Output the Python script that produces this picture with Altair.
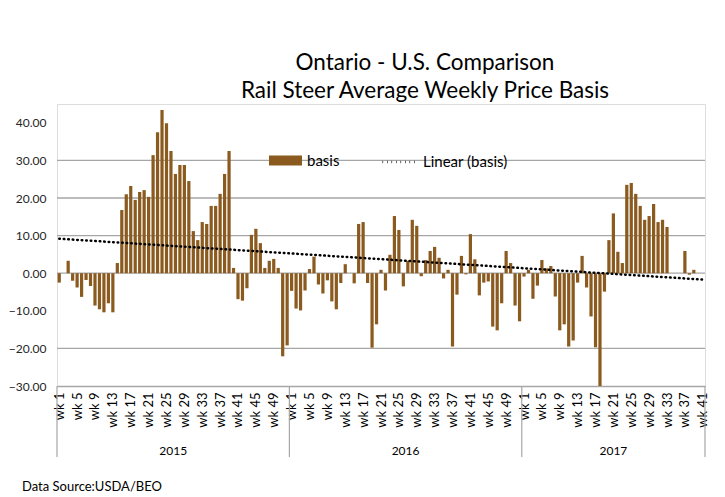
import altair as alt
import pandas as pd

# ---------------- data ----------------
years = ["2015", "2016", "2017"]

basis_2015 = [-2.5, None, 3.3, -2.0, -3.8, -6.3, -1.8, -3.4, -8.6, -9.6,
              -10.4, -8.0, -10.4, 2.7, 16.8, 21.0, 23.2, 19.5, 21.6, 22.1,
              20.3, 31.4, 37.5, 43.4, 39.9, 32.5, 26.4, 28.8, 28.8, 24.5,
              11.2, 8.8, 13.6, 13.1, 17.9, 17.9, 21.1, 26.4, 32.5, 1.4,
              -6.9, -7.3, -4.0, 10.2, 11.8, 8.0, 1.4, 3.3, 3.8, 1.4,
              -22.1, -19.2]

basis_2016 = [-4.7, -9.4, -9.9, -4.6, 1.1, 4.4, -3.0, -5.4, -1.9, -7.5,
              -9.6, -2.6, 2.4, None, -2.7, 13.1, 13.6, -2.6, -19.8, -13.6,
              0.9, -4.6, 4.9, 15.2, 11.5, -3.5, 3.3, 14.2, 12.6, -0.8,
              3.5, 5.9, 7.0, 4.1, -1.4, 0.9, -19.5, -5.7, 4.6, -0.3,
              10.4, 3.7, -5.9, -2.5, -2.2, -14.2, -15.2, -8.0, 5.9, 2.7,
              -8.6, -12.8]

basis_2017 = [-0.9, 0.9, -6.8, -3.3, 3.5, 1.3, 1.9, -6.2, -15.2, -13.6,
              -19.5, -17.9, -2.5, 4.6, -3.8, -11.5, -19.7, -30.0, -4.9, 8.8,
              15.9, 5.7, 2.7, 23.5, 24.0, 21.1, 17.9, 14.2, 15.2, 18.4,
              13.6, 14.2, 12.3, None, None, None, 5.9, -0.4, 0.9, None,
              None]

series_name = "basis"
trend_name = "Linear (basis)"
y_ticks = [-30, -20, -10, 0, 10, 20, 30, 40]
grid_values = [-20, 0, 10, 20, 30]
title_lines = ["Ontario - U.S. Comparison", "Rail Steer Average Weekly Price Basis"]
source_note = "Data Source:USDA/BEO"

# ---------------- tables built from the lists ----------------
rows, year_rows, bound_rows = [], [], []
start = 0
label_parts = []
bound_rows.append({"b": -0.5})
for yr, vals in zip(years, [basis_2015, basis_2016, basis_2017]):
    for w, v in enumerate(vals, start=1):
        rows.append({"idx": start + w - 1, "year": yr, "week": w, "val": v,
                     "series": series_name})
    year_rows.append({"year": yr, "c": start + (len(vals) - 1) / 2})
    label_parts.append((start, start + len(vals)))
    start += len(vals)
    bound_rows.append({"b": start - 0.5})

df = pd.DataFrame(rows)
years_df = pd.DataFrame(year_rows)
bounds_df = pd.DataFrame(bound_rows)
grid_df = pd.DataFrame({"g": grid_values})
n = len(df)

# label expression: index -> "wk N"
expr = "''"
for s, e in reversed(label_parts):
    expr = f"(datum.value >= {s} && datum.value < {e}) ? 'wk ' + (datum.value - {s} + 1) : " + expr

W, H = 648, 282
FONT = "Lato"
BROWN = "#8B5A1F"

x_scale = alt.Scale(domain=[-0.5, n - 0.5], nice=False, zero=False)
y_scale = alt.Scale(domain=[-30, 45], nice=False, zero=False)

x_axis = alt.Axis(values=list(range(0, n, 4)), labelExpr=expr,
                  labelAngle=-90, labelAlign="right", labelBaseline="middle",
                  labelPadding=6, labelFontSize=13, labelFont=FONT,
                  labelColor="#000000", labelOverlap=False, labelFlush=False,
                  labelBound=False, ticks=False, grid=False, domain=True,
                  domainColor="#a6a6a6", domainWidth=1.3)
y_axis = alt.Axis(values=y_ticks, format=".2f", labelFontSize=12,
                  labelFont=FONT, labelColor="#262626", labelPadding=11,
                  ticks=False, domain=False, grid=False)

grid = alt.Chart(grid_df).mark_rule(color="#a6a6a6", strokeWidth=1.3).encode(
    y=alt.Y("g:Q", scale=y_scale, axis=y_axis, title=None)
)

bars = alt.Chart(df).transform_filter("isValid(datum.val)").transform_calculate(
    x1="datum.idx - 0.36", x2="datum.idx + 0.36"
).mark_bar(stroke=None).encode(
    x=alt.X("x1:Q", scale=x_scale, title=None, axis=x_axis),
    x2="x2:Q",
    y=alt.Y("val:Q", scale=y_scale, title=None, axis=y_axis),
    y2=alt.Y2(datum=0),
    color=alt.Color("series:N", scale=alt.Scale(domain=[series_name], range=[BROWN]),
                    legend=alt.Legend(orient="none", legendX=212, legendY=40,
                                      title=None, direction="horizontal", padding=0,
                                      symbolType="M-1,-0.3H1V0.3H-1Z", symbolSize=1089,
                                      symbolStrokeWidth=0, labelFontSize=15,
                                      labelFont=FONT, labelColor="#000000",
                                      labelOffset=5)),
)

trend = alt.Chart(df).transform_filter("isValid(datum.val)").transform_regression(
    "idx", "val", method="linear", extent=[0, n - 1]
).transform_calculate(trend=f"'{trend_name}'").mark_line(
    color="#000000", strokeWidth=2.5, strokeCap="round"
).encode(
    x=alt.X("idx:Q", scale=x_scale, title=None, axis=x_axis),
    y=alt.Y("val:Q", scale=y_scale, title=None, axis=y_axis),
    strokeDash=alt.StrokeDash("trend:N",
                              scale=alt.Scale(domain=[trend_name], range=[[0.6, 3.9]]),
                              legend=alt.Legend(orient="none", legendX=324, legendY=40,
                                                title=None, direction="horizontal",
                                                padding=0, symbolType="stroke",
                                                symbolSize=1089, symbolStrokeWidth=2.5,
                                                symbolStrokeColor="#000000",
                                                labelFontSize=15, labelFont=FONT,
                                                labelColor="#000000", labelOffset=6)),
)

frame = alt.Chart(bounds_df).mark_rule(color="#a6a6a6", strokeWidth=1.2).encode(
    x=alt.X("b:Q", scale=x_scale, title=None, axis=x_axis),
    y=alt.value(H),
    y2=alt.value(H + 71),
)

year_text = alt.Chart(years_df).mark_text(
    font=FONT, fontSize=12, color="#000000", baseline="middle"
).encode(
    x=alt.X("c:Q", scale=x_scale, title=None, axis=x_axis),
    y=alt.value(H + 65),
    text="year:N",
)

source = alt.Chart(pd.DataFrame({"t": [source_note]})).mark_text(
    font=FONT, fontSize=13, color="#000000", align="left", baseline="middle"
).encode(
    x=alt.value(-35),
    y=alt.value(H + 101),
    text="t:N",
)

chart = alt.layer(grid, bars, trend, frame, year_text, source).properties(
    width=W, height=H,
    title=alt.TitleParams(text=title_lines, font=FONT, fontSize=22.5,
                          fontWeight="normal", color="#000000", anchor="middle",
                          dx=44, offset=2, lineHeight=28),
    autosize=alt.AutoSizeParams(type="none"),
    padding={"left": 49, "top": 96, "right": 12, "bottom": 108},
).configure_view(stroke=None).configure(background="#ffffff")

chart.save("out.html", embed_options={"renderer": "svg", "actions": False})
